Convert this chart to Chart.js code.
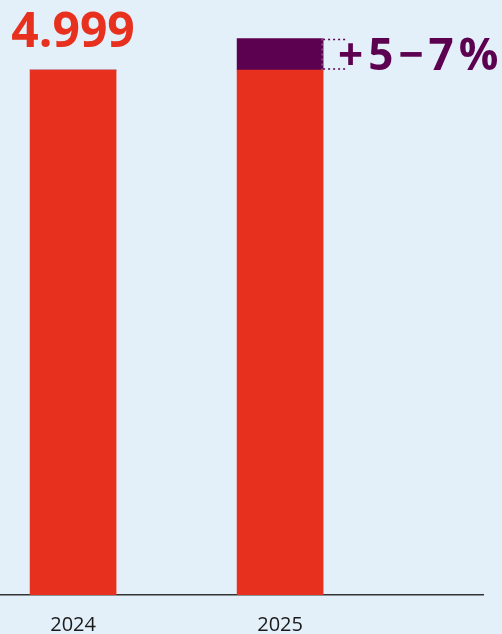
<!DOCTYPE html>
<html lang="de">
<head>
    <meta charset="UTF-8">
    <title>Prognose 2025</title>
    <script src="https://cdn.jsdelivr.net/npm/chart.js"></script>
    <style>
        html, body {
            margin: 0;
            padding: 0;
            background-color: #e3f0fa;
        }
        .chart-box {
            width: 502px;
            height: 634px;
        }
    </style>
</head>
<body>
    <div class="chart-box">
        <canvas id="forecastChart"></canvas>
    </div>

    <script>
        const years = ['2024', '2025'];
        const baseValues = [4999, 4999];
        const growthValues = [0, 300];      // +5–7 %, Mitte bei 6 %
        const baseLabel = '4.999';
        const growthLabel = '+5−7%';

        const RED = '#e8301e';
        const PURPLE = '#5c0050';

        // Beschriftungen über den Balken und gepunktete Hilfslinien
        const labelPlugin = {
            id: 'labelPlugin',
            afterDatasetsDraw(chart) {
                const ctx = chart.ctx;
                const base = chart.getDatasetMeta(0).data;
                const growth = chart.getDatasetMeta(1).data;

                ctx.save();
                ctx.font = 'bold 48px "Open Sans"';
                ctx.fillStyle = RED;
                ctx.textAlign = 'center';
                ctx.textBaseline = 'alphabetic';
                ctx.fillText(baseLabel, base[0].x, base[0].y - 23);

                const seg = growth[1];
                const right = seg.x + seg.width / 2;
                ctx.strokeStyle = PURPLE;
                ctx.lineWidth = 1.5;
                ctx.setLineDash([2, 3]);
                ctx.beginPath();
                ctx.moveTo(right, seg.y + 1);
                ctx.lineTo(right + 23, seg.y + 1);
                ctx.moveTo(right, seg.base - 1);
                ctx.lineTo(right + 23, seg.base - 1);
                ctx.stroke();

                ctx.strokeStyle = 'rgba(227, 240, 250, 0.5)';
                ctx.lineWidth = 1;
                ctx.beginPath();
                ctx.moveTo(right - 1, seg.y);
                ctx.lineTo(right - 1, seg.base);
                ctx.stroke();
                ctx.setLineDash([]);

                ctx.font = 'bold 44px "Open Sans"';
                ctx.letterSpacing = '5px';
                ctx.fillStyle = PURPLE;
                ctx.textAlign = 'left';
                ctx.fillText(growthLabel, right + 15, seg.base);
                ctx.restore();
            }
        };

        new Chart(document.getElementById('forecastChart'), {
            type: 'bar',
            data: {
                datasets: [
                    {
                        data: years.map((y, i) => ({ x: i, y: baseValues[i] })),
                        backgroundColor: RED,
                        barThickness: 86
                    },
                    {
                        data: years.map((y, i) => ({ x: i, y: growthValues[i] })),
                        backgroundColor: PURPLE,
                        barThickness: 86
                    }
                ]
            },
            options: {
                responsive: true,
                maintainAspectRatio: false,
                animation: false,
                layout: {
                    padding: { left: 0, right: 19, top: 0, bottom: -21 }
                },
                plugins: {
                    legend: { display: false },
                    tooltip: { enabled: false }
                },
                scales: {
                    x: {
                        type: 'linear',
                        stacked: true,
                        offset: false,
                        bounds: 'data',
                        min: -0.353,
                        max: 1.98,
                        afterBuildTicks(scale) {
                            scale.ticks = years.map((y, i) => ({ value: i }));
                        },
                        grid: { display: false, drawTicks: false },
                        border: { display: true, color: '#333333', width: 1.5 },
                        ticks: {
                            padding: 18,
                            maxRotation: 0,
                            autoSkip: false,
                            color: '#1a1a1a',
                            font: { family: '"Open Sans"', size: 20 },
                            callback: (v) => years[v]
                        }
                    },
                    y: {
                        stacked: true,
                        display: false,
                        min: 0,
                        max: 5666
                    }
                }
            },
            plugins: [labelPlugin]
        });
    </script>
</body>
</html>
